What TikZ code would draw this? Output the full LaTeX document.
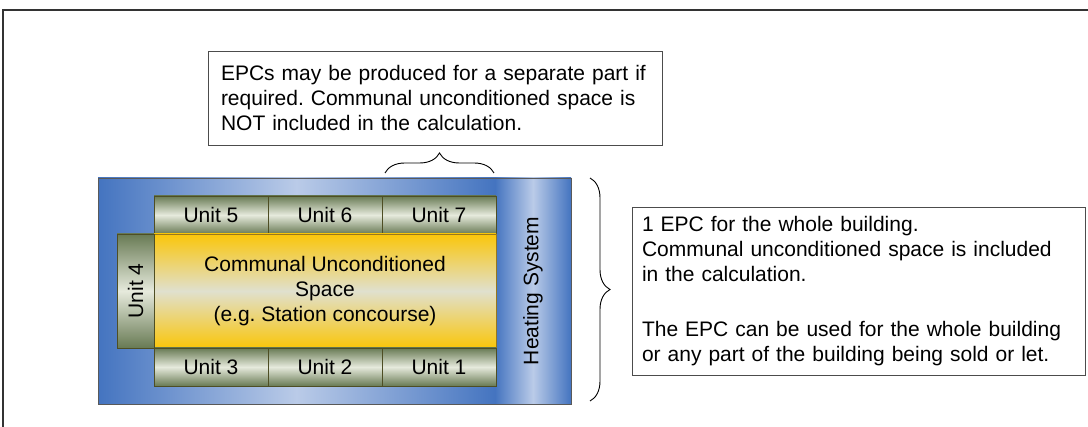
\documentclass[tikz,border=0pt]{standalone}
\usepackage{fontspec}
\setmainfont{Liberation Sans}
\usepackage{tikz}
\usetikzlibrary{positioning,decorations.pathreplacing}
\definecolor{bluedark}{RGB}{68,116,192}
\definecolor{bluelight}{RGB}{186,203,232}
\definecolor{olivedark}{RGB}{104,122,84}
\definecolor{olivelight}{RGB}{230,234,220}
\definecolor{oliveline}{RGB}{78,78,36}
\definecolor{golddark}{RGB}{250,198,10}
\definecolor{goldlight}{RGB}{224,224,206}
\definecolor{goldline}{RGB}{150,120,30}
\frenchspacing

\begin{document}
\begin{tikzpicture}[x=1pt,y=-1pt,node distance=0pt,every node/.style={outer sep=0pt,font=\fontsize{21}{25}\selectfont}]
\tikzset{unit/.style={draw=oliveline,top color=olivedark,bottom color=olivedark,middle color=olivelight,minimum width=114pt,minimum height=38pt,inner sep=0pt}}
\tikzset{note/.style={draw=black!70,fill=white,align=left,inner ysep=6pt}}
\tikzset{sbrace/.style={decorate,decoration={brace,amplitude=20pt},line width=0.9pt}}

\useasboundingbox (0,0) rectangle (1088,427);
\draw[black!80,line width=1.2pt] (3,427) |- (1088,10);

  % building and heating system
  \node(B) [minimum width=473pt,minimum height=226pt] at (334.5,291) {};
  \node(HS) [rotate=90,minimum width=226pt,minimum height=76pt,inner sep=0pt,left color=bluedark,right color=bluedark,middle color=bluelight] at (533,291) {Heating System};
  \fill[left color=bluedark,right color=bluedark,middle color=bluelight] (B.north west) rectangle (HS.north |- B.south);
  \draw[black!65] (B.south west) rectangle (B.north east);

  % units round the communal space
  \node(U5) [unit] at (211,215) {Unit 5};
  \node(U6) [unit,right=of U5] {Unit 6};
  \node(U7) [unit,right=of U6] {Unit 7};
  \node(CS) [below=of U6,draw=goldline,top color=golddark,bottom color=golddark,middle color=goldlight,minimum width=342pt,minimum height=114pt,align=center] {Communal Unconditioned\\Space\\(e.g. Station concourse)};
  \node(U2) [unit,below=of CS] {Unit 2};
  \node(U3) [unit,left=of U2] {Unit 3};
  \node(U1) [unit,right=of U2] {Unit 1};
  \node(U4) [unit,rotate=90,anchor=south,minimum width=114pt,minimum height=37pt] at (CS.west) {Unit 4};

  % notes
  \node(N1) [note,inner xsep=13pt,text width=428pt,minimum height=94pt] at (435,98) {EPCs may be produced for a separate part if\\required. Communal unconditioned space is\\NOT included in the calculation.};
  \node(N2) [note,inner xsep=10pt,text width=433pt,minimum height=168pt] at (858.5,291) {1 EPC for the whole building.\\Communal unconditioned space is included\\in the calculation.\\[30pt]The EPC can be used for the whole building\\or any part of the building being sold or let.};

\draw[sbrace] ([xshift=3pt,yshift=23pt]U7.north west) -- ([xshift=-2pt,yshift=23pt]U7.north east);
\draw[sbrace] ([xshift=19pt]B.north east) -- ([xshift=19pt,yshift=3pt]B.south east);
\end{tikzpicture}
\end{document}
